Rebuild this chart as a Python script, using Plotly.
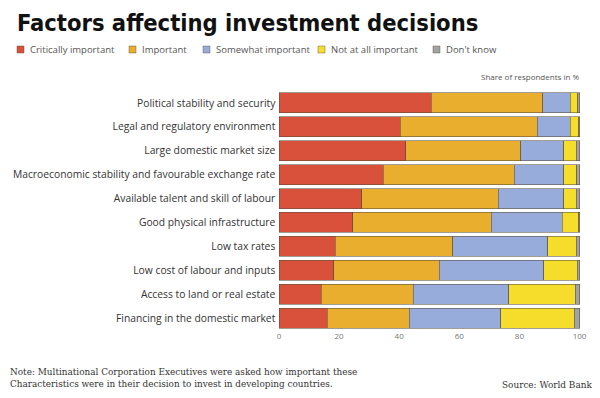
import plotly.graph_objects as go

factors = [
    "Political stability and security",
    "Legal and regulatory environment",
    "Large domestic market size",
    "Macroeconomic stability and favourable exchange rate",
    "Available talent and skill of labour",
    "Good physical infrastructure",
    "Low tax rates",
    "Low cost of labour and inputs",
    "Access to land or real estate",
    "Financing in the domestic market",
]
critically_important = [50.7, 40.3, 42.2, 34.7, 27.6, 24.6, 18.8, 18.2, 14.1, 16.0]
important = [37.0, 45.7, 38.3, 43.6, 45.4, 46.0, 39.1, 35.2, 30.6, 27.3]
somewhat_important = [9.2, 10.9, 14.2, 16.4, 21.7, 23.6, 31.6, 34.7, 31.8, 30.5]
not_at_all_important = [2.5, 2.8, 4.2, 4.4, 4.2, 5.5, 9.4, 11.1, 22.1, 24.5]
dont_know = [0.6, 0.3, 1.1, 0.9, 1.1, 0.3, 1.1, 0.8, 1.4, 1.7]

series_names = ["Critically important", "Important", "Somewhat important",
                "Not at all important", "Don't know"]
series_values = [critically_important, important, somewhat_important,
                 not_at_all_important, dont_know]
colors = ["#d9513b", "#eaae2f", "#98acdb", "#f6dc2b", "#a3a3a3"]
x_ticks = [0, 20, 40, 60, 80, 100]

# The page body adds an 8px margin; size the figure so it fills the window.
O = 8
W, H = 600 - O, 398 - O
L, R, T, B = 279 - O, 19, 91 - O, 68
PW, PH = W - L - R, H - T - B


def px(x):
    # x given in window pixels
    return (x - O - L) / PW


def py(y):
    # y given in window pixels
    return (H - B - (y - O)) / PH


fig = go.Figure()
for name, vals, col in zip(series_names, series_values, colors):
    fig.add_trace(go.Bar(
        y=factors, x=vals, name=name, orientation="h",
        marker=dict(color=col, line=dict(color="rgba(90,80,60,0.7)", width=0.8)),
        showlegend=False,
    ))

# Manual compact legend, like the original
leg_sq = [17, 129, 203, 318, 433]
shapes = []
annotations = []
for lx, name, col in zip(leg_sq, series_names, colors):
    shapes.append(dict(type="rect", xref="paper", yref="paper",
                       x0=px(lx), x1=px(lx + 7), y0=py(53), y1=py(46),
                       fillcolor=col, line=dict(color="rgba(90,80,60,0.7)", width=0.6)))
    annotations.append(dict(text=name, xref="paper", yref="paper",
                            x=px(lx + 11), y=py(49.5),
                            xanchor="left", yanchor="middle", showarrow=False,
                            font=dict(family="Open Sans", size=9.5, color="#555555")))

annotations += [
    dict(text="Factors affecting investment decisions", xref="paper", yref="paper",
         x=px(16), y=py(8.5), xanchor="left", yanchor="top", borderpad=0,
         showarrow=False,
         font=dict(family="DejaVu Sans Condensed, Lato", size=23.5, color="#111111",
                   weight="bold")),
    dict(text="Share of respondents in %", xref="paper", yref="paper",
         x=1.0, y=py(76), xanchor="right", yanchor="middle", showarrow=False,
         font=dict(family="Open Sans", size=8, color="#555555")),
    dict(text="Note: Multinational Corporation Executives were asked how important these<br>"
              "Characteristics were in their decision to invest in developing countries.",
         xref="paper", yref="paper", x=px(8), y=py(378),
         xanchor="left", yanchor="middle", align="left", showarrow=False,
         font=dict(family="DejaVu Serif", size=8.9, color="#333333")),
    dict(text="Source: World Bank", xref="paper", yref="paper",
         x=px(594), y=py(385), xanchor="right", yanchor="middle",
         showarrow=False, font=dict(family="DejaVu Serif", size=8.9, color="#333333")),
]

fig.update_layout(
    width=W, height=H,
    margin=dict(l=L, r=R, t=T, b=B),
    barmode="stack", bargap=0.16,
    paper_bgcolor="white", plot_bgcolor="white",
    shapes=shapes, annotations=annotations,
    xaxis=dict(range=[0, 100.5], tickvals=x_ticks, showgrid=False, zeroline=False,
               tickfont=dict(family="Open Sans", size=8, color="#777777"),
               ticks="", showline=False, automargin=False),
    yaxis=dict(autorange="reversed", showgrid=False, zeroline=False, ticks="",
               ticksuffix=" ", automargin=False,
               tickfont=dict(family="Open Sans", size=10.3, color="#333333")),
)

fig.write_html("out.html")
